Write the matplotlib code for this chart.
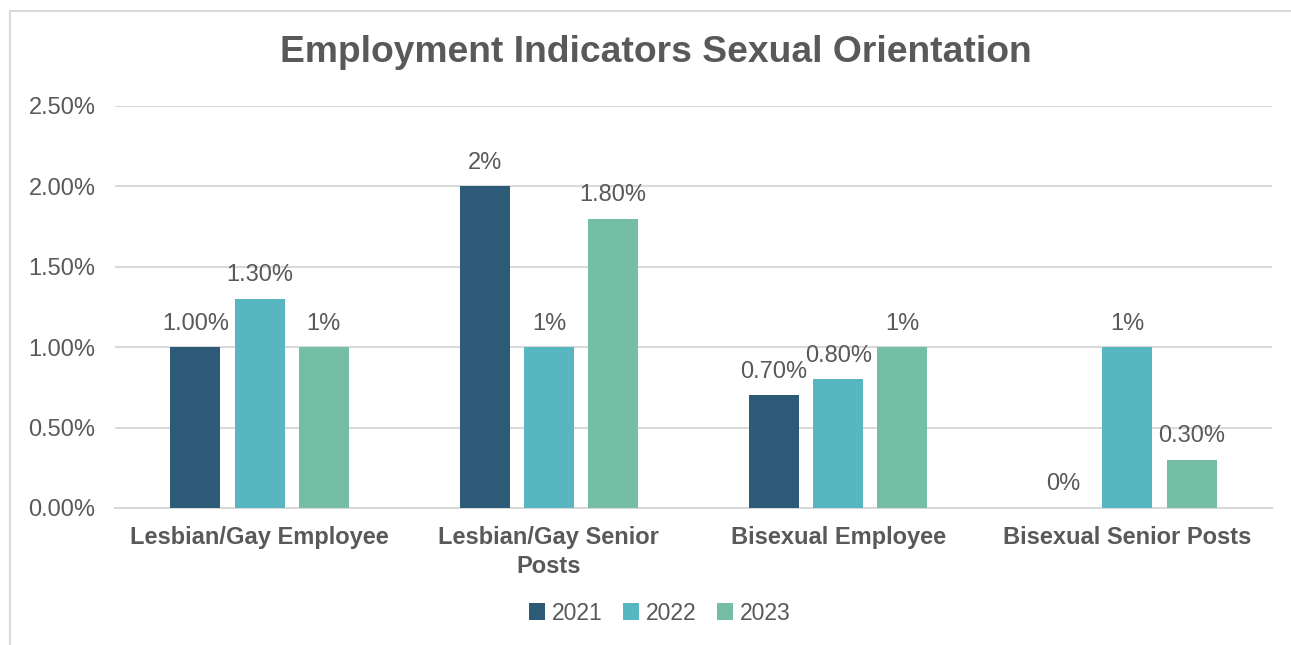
import matplotlib
matplotlib.use("Agg")
import matplotlib.pyplot as plt
from matplotlib.patches import Rectangle
import numpy as np

plt.rcParams['font.family'] = ['Liberation Sans', 'DejaVu Sans']

categories = ["Lesbian/Gay Employee", "Lesbian/Gay Senior\nPosts",
              "Bisexual Employee", "Bisexual Senior Posts"]
years = ["2021", "2022", "2023"]
values_2021 = [1.0, 2.0, 0.7, 0.0]
values_2022 = [1.3, 1.0, 0.8, 1.0]
values_2023 = [1.0, 1.8, 1.0, 0.3]
# decimals shown in each data label
decimals_2021 = [2, 0, 2, 0]
decimals_2022 = [2, 0, 2, 0]
decimals_2023 = [0, 2, 0, 2]
yticks = [0.0, 0.5, 1.0, 1.5, 2.0, 2.5]

series = [values_2021, values_2022, values_2023]
decimals = [decimals_2021, decimals_2022, decimals_2023]
colors = ["#2D5A77", "#57B6C0", "#74BEA6"]
text_color = "#595959"
grid_color = "#D9D9D9"

fig = plt.figure(figsize=(12.91, 6.45), dpi=100)
ax = fig.add_axes([115 / 1291, 1 - 508 / 645, (1272 - 115) / 1291, (508 - 106) / 645])

x = np.arange(len(categories))
bar_w = 0.173
step = 0.222
for i, (vals, decs, col, yr) in enumerate(zip(series, decimals, colors, years)):
    pos = x + (i - 1) * step
    bars = ax.bar(pos, vals, width=bar_w, color=col, label=yr, zorder=3)
    for b, v, d in zip(bars, vals, decs):
        ax.annotate(f"{v:.{d}f}%", (b.get_x() + b.get_width() / 2, v),
                    xytext=(0, 9), textcoords="offset points",
                    ha="center", va="bottom", fontsize=17, color=text_color)

ax.set_xlim(-0.5, len(categories) - 0.5)
ax.set_ylim(0, 2.5)
ax.set_yticks(yticks)
ax.set_yticklabels([f"{t:.2f}%" for t in yticks])
ax.set_xticks(x)
ax.set_xticklabels(categories, fontweight="bold", fontsize=17, color=text_color,
                   linespacing=1.35)
ax.tick_params(axis="y", length=0, pad=14, labelsize=17, labelcolor=text_color)
ax.tick_params(axis="x", length=0, pad=13)
ax.yaxis.grid(True, color=grid_color, linewidth=1.5, zorder=0)
ax.set_axisbelow(True)
for s in ["top", "right", "left"]:
    ax.spines[s].set_visible(False)
ax.spines["bottom"].set_color(grid_color)
ax.spines["bottom"].set_linewidth(1.5)

fig.text(656 / 1291, 1 - 53 / 645, "Employment Indicators Sexual Orientation",
         ha="center", va="center", fontsize=26.8, fontweight="bold", color=text_color)

ax.legend(loc="center", bbox_to_anchor=(660 / 1291, 1 - 613 / 645),
          bbox_transform=fig.transFigure, ncol=3, frameon=False,
          fontsize=16.5, labelcolor=text_color, handlelength=0.7, handleheight=0.7,
          handletextpad=0.3, columnspacing=0.9)

# chart frame
fig.patches.append(Rectangle((9.5 / 1291, -0.1), 1.5, 1 - 10.5 / 645 + 0.1,
                             transform=fig.transFigure, fill=False,
                             edgecolor="#D9D9D9", linewidth=1.5))

fig.savefig("out.png", dpi=100)
